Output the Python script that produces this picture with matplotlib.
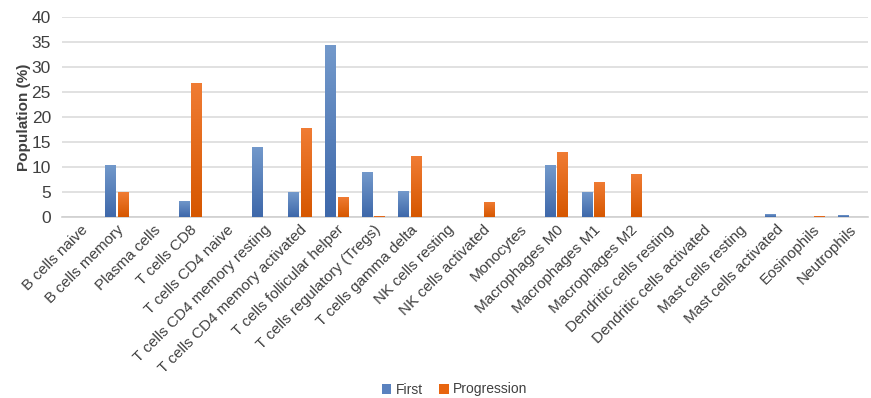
import numpy as np
import matplotlib
matplotlib.use("Agg")
from matplotlib import pyplot as plt
from matplotlib.colors import LinearSegmentedColormap

plt.rcParams["font.family"] = ["Liberation Sans", "DejaVu Sans"]

cells = ["B cells naive", "B cells memory", "Plasma cells", "T cells CD8",
         "T cells CD4 naive", "T cells CD4 memory resting",
         "T cells CD4 memory activated", "T cells follicular helper",
         "T cells regulatory (Tregs)", "T cells gamma delta",
         "NK cells resting", "NK cells activated", "Monocytes",
         "Macrophages M0", "Macrophages M1", "Macrophages M2",
         "Dendritic cells resting", "Dendritic cells activated",
         "Mast cells resting", "Mast cells activated", "Eosinophils",
         "Neutrophils"]

first = [0, 10.5, 0, 3.3, 0, 14.1, 5.0, 34.4, 9.0, 5.2, 0, 0, 0,
         10.4, 5.1, 0, 0, 0, 0, 0.6, 0, 0.35]
progression = [0, 5.0, 0, 26.9, 0, 0, 17.8, 4.1, 0.2, 12.2, 0, 3.1, 0,
               13.1, 7.1, 8.7, 0, 0, 0, 0, 0.2, 0]

fig = plt.figure(figsize=(8.71, 3.98), dpi=100)
ax = fig.add_axes([62 / 871, 181 / 398, 806 / 871, 200 / 398])

x = np.arange(len(cells))
w = 0.3
b1 = ax.bar(x - 0.17, first, w, color="#5a82bf", label="First", zorder=2)
b2 = ax.bar(x + 0.17, progression, w, color="#e8650f", label="Progression", zorder=2)

# vertical shading on each bar, lighter at the top
blue_cm = LinearSegmentedColormap.from_list("b", ["#3e68aa", "#7399cb"])
orange_cm = LinearSegmentedColormap.from_list("o", ["#d65700", "#f07c34"])
grad = np.linspace(0, 1, 64).reshape(-1, 1)
for bars, cm in ((b1, blue_cm), (b2, orange_cm)):
    for p in bars:
        h = p.get_height()
        if h <= 0:
            continue
        x0 = p.get_x()
        im = ax.imshow(grad, extent=(x0, x0 + p.get_width(), 0, h),
                       origin="lower", aspect="auto", cmap=cm, zorder=3)
        im.set_clip_path(p)
ax.set_xlim(-0.5, len(cells) - 0.5)
ax.set_ylim(0, 40)

ax.set_yticks(range(0, 41, 5))
ax.yaxis.grid(True, color="#dcdcdc", linewidth=1.2, zorder=0)
ax.set_axisbelow(True)
for s in ("top", "right", "left"):
    ax.spines[s].set_visible(False)
ax.spines["bottom"].set_color("#d0d0d0")
ax.spines["bottom"].set_linewidth(1.2)
ax.tick_params(axis="both", length=0, colors="#404040")
ax.tick_params(axis="x", pad=4)
ax.tick_params(axis="y", pad=8, labelsize=12.5)

ax.set_xticks(x)
ax.set_xticklabels(cells, rotation=45, ha="right", rotation_mode="anchor",
                   fontsize=11, color="#404040")

ax.set_ylabel("Population (%)", fontsize=11, fontweight="bold", color="#404040",
              labelpad=0)

ax.legend(loc="lower center", bbox_to_anchor=(0.487, -0.96), ncol=2, frameon=False,
          fontsize=10, handlelength=0.7, handleheight=0.7, columnspacing=1.2,
          handletextpad=0.3, labelcolor="#404040")

fig.savefig("out.png", dpi=100)
